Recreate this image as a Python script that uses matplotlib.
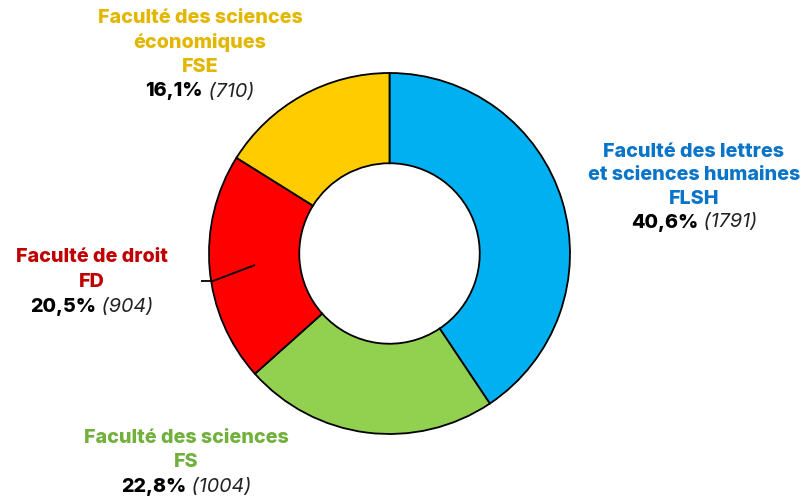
import matplotlib
matplotlib.use("Agg")
import matplotlib.pyplot as plt

# Data
faculties = ["Faculté des lettres\net sciences humaines", "Faculté des sciences",
             "Faculté de droit", "Faculté des sciences\néconomiques"]
codes = ["FLSH", "FS", "FD", "FSE"]
counts = [1791, 1004, 904, 710]
percents = ["40,6%", "22,8%", "20,5%", "16,1%"]
slice_colors = ["#00B0F0", "#92D050", "#FF0000", "#FFCC00"]
text_colors = ["#0A74C9", "#72B03C", "#C00000", "#E3B600"]

W, H = 809, 502
fig = plt.figure(figsize=(W / 100, H / 100), dpi=100)
ax = fig.add_axes([0, 0, 1, 1])

def Y(y):
    return H - y

cx, cy, R = 389.5, 254.5, 180.5
ax.pie(counts, colors=slice_colors, startangle=90, counterclock=False,
       center=(cx, Y(cy)), radius=R,
       wedgeprops=dict(width=R * 0.5, edgecolor="black", linewidth=1.3))
ax.set_xlim(0, W)
ax.set_ylim(0, H)
ax.set_aspect("equal")
ax.axis("off")

FONT = "Inter"
FS = 14.2

# label layout: (center x, y of first line, line spacing)
layout = [(694, 152, 23.5), (186, 438, 24.5), (92, 257, 25), (200, 18, 24.5)]

renderer = fig.canvas.get_renderer()
for i in range(len(counts)):
    x, y0, dy = layout[i]
    lines = faculties[i].split("\n") + [codes[i]]
    for k, line in enumerate(lines):
        ax.text(x, Y(y0 + k * dy), line, ha="center", va="center",
                fontsize=FS, fontweight="heavy", color=text_colors[i], family=FONT)
    yl = Y(y0 + len(lines) * dy)
    t1 = ax.text(0, yl, percents[i], ha="left", va="center", fontsize=FS,
                 fontweight="heavy", color="black", family=FONT)
    t2 = ax.text(0, yl, f" ({counts[i]})", ha="left", va="center", fontsize=FS,
                 style="italic", color="#222222", family=FONT)
    w1 = t1.get_window_extent(renderer).width
    w2 = t2.get_window_extent(renderer).width
    start = x - (w1 + w2) / 2
    t1.set_x(start)
    t2.set_x(start + w1)

# leader line for FD
ax.plot([201, 213, 255], [Y(282), Y(282), Y(266)], color="black", lw=1.3,
        solid_capstyle="butt")

fig.savefig("out.png", dpi=100)
